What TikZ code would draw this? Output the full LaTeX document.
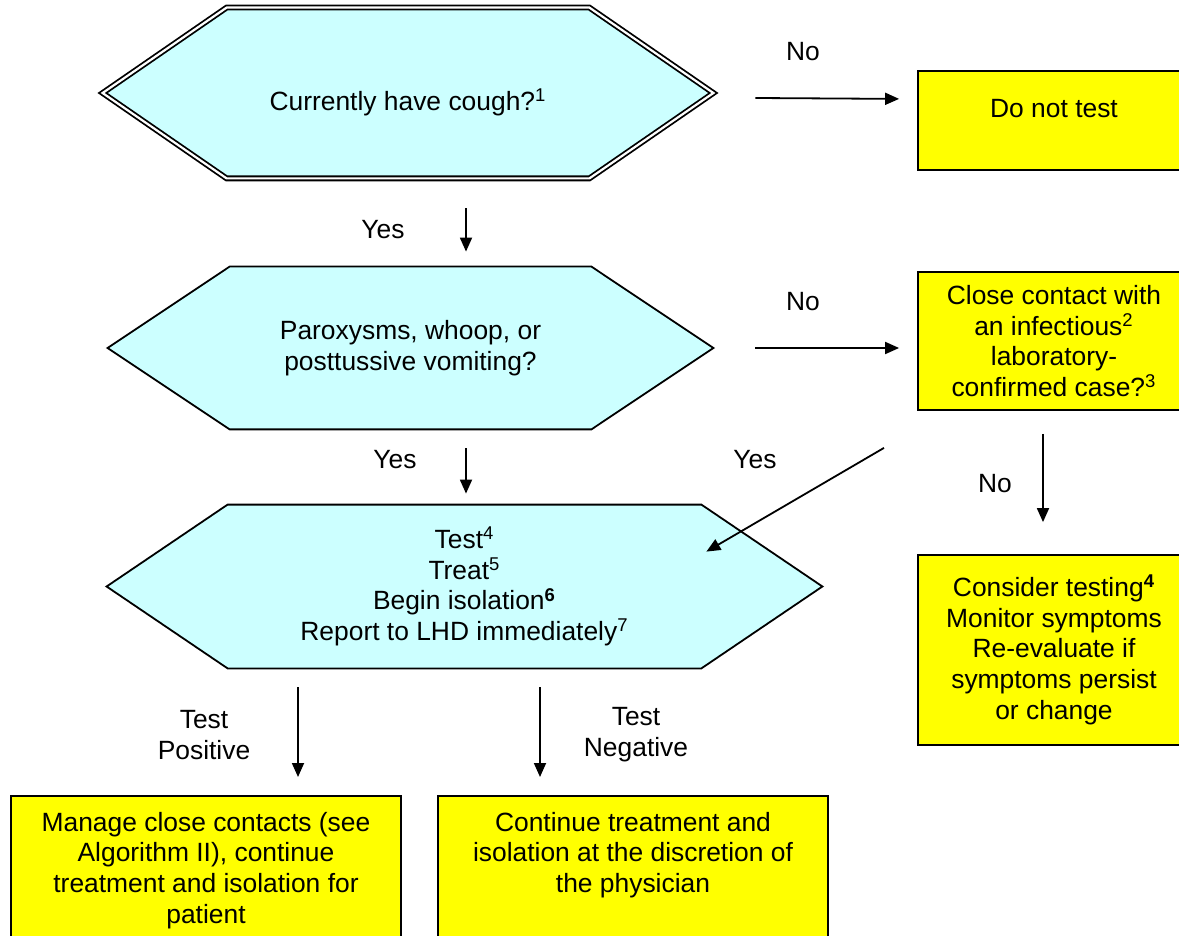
\documentclass[tikz,border=0pt]{standalone}
\usepackage{fontspec}
\setmainfont{Liberation Sans}
\usepackage{tikz}
\usetikzlibrary{arrows.meta, backgrounds}
\definecolor{qcyan}{HTML}{CCFFFF}
\definecolor{ayellow}{HTML}{FFFF00}
\newcommand{\fsz}{\fontsize{13.2}{15.4}\selectfont}
% hexagon outline round a rectangular node, #2 = depth of the points
\newcommand{\hexpath}[2]{(#1.west) -- ([xshift=#2]#1.north west) -- ([xshift=-#2]#1.north east) -- (#1.east) -- ([xshift=-#2]#1.south east) -- ([xshift=#2]#1.south west) -- cycle}
\tikzset{
  qnode/.style={inner sep=0pt, align=center, font=\fsz},
  hexline/.style={draw, fill=qcyan, line width=0.9pt},
  actbox/.style={draw, fill=ayellow, line width=0.9pt, align=center, font=\fsz, inner sep=0pt, minimum width=136pt},
  flow/.style={-{Triangle[length=7pt,width=6pt]}, line width=0.9pt},
  lbl/.style={align=center, font=\fsz, inner sep=0pt}
}

\begin{document}
\begin{tikzpicture}[x=0.5pt, y=-0.5pt]
    \useasboundingbox (0,0) rectangle (1179,936);

    % questions
    \node [qnode, minimum width=305pt, minimum height=85pt, text height=20pt, text depth=2.8pt] (cough) at (408,93) {Currently have cough?\textsuperscript{1}};
    \node [qnode, minimum width=302.5pt, minimum height=81pt] (parox) at (410.5,348) {Paroxysms, whoop, or\\posttussive vomiting?};
    \node [qnode, minimum width=357.5pt, minimum height=81.5pt] (treat) at (464.5,586.5) {Test\textsuperscript{4}\\Treat\textsuperscript{5}\\Begin isolation\textsuperscript{\textbf{6}}\\Report to LHD immediately\textsuperscript{7}};
    \begin{scope}[on background layer]
        \draw [hexline, double=white, double distance=1.1pt] \hexpath{cough}{62pt};
        \draw [hexline] \hexpath{parox}{61pt};
        \draw [hexline] \hexpath{treat}{60.5pt};
    \end{scope}

    % outcomes
    \node [actbox, anchor=north, text height=23.25pt, text depth=26.25pt] (notest) at (1054,70) {Do not test};
    \node [actbox, minimum height=69pt] (contact) at (1054,341) {Close contact with\\an infectious\textsuperscript{2}\\laboratory-\\confirmed case?\textsuperscript{3}};
    \node [actbox, minimum height=95pt] (consider) at (1054,650) {Consider testing\textsuperscript{\textbf{4}}\\Monitor symptoms\\Re-evaluate if\\symptoms persist\\or change};
    \node [actbox, minimum width=195pt, anchor=north, inner ysep=8pt, text depth=100pt] (manage) at (206,795) {Manage close contacts (see\\Algorithm II), continue\\treatment and isolation for\\patient};
    \node [actbox, minimum width=195pt, anchor=north, inner ysep=8pt, text depth=100pt] (cont) at (633,795) {Continue treatment and\\isolation at the discretion of\\the physician};

    % arrows
    \draw [flow] ([xshift=21pt,yshift=-2.5pt]cough.east) -- ([xshift=-9pt,yshift=10.75pt]notest.west);
    \draw [flow] ([xshift=29pt,yshift=-15pt]cough.south) -- ([xshift=27.75pt,yshift=7.5pt]parox.north);
    \draw [flow] ([xshift=21pt]parox.east) -- ([xshift=-9pt,yshift=-3.5pt]contact.west);
    \draw [flow] ([xshift=27.75pt,yshift=-9.5pt]parox.south) -- ([xshift=0.75pt,yshift=5.5pt]treat.north);
    \draw [flow] ([xshift=-85pt,yshift=-18.5pt]contact.south) -- ([xshift=-58pt,yshift=-23.5pt]treat.north east);
    \draw [flow] ([xshift=-5.5pt,yshift=-11.5pt]contact.south) -- ([xshift=-5.5pt,yshift=16pt]consider.north);
    \draw [flow] ([xshift=-83.25pt,yshift=-9.5pt]treat.south) -- ([xshift=46pt,yshift=9pt]manage.north);
    \draw [flow] ([xshift=37.75pt,yshift=-9.5pt]treat.south) -- ([xshift=-46.5pt,yshift=9pt]cont.north);

    % arrow labels
    \node [lbl] (no1) at (803,52) {No};
    \node [lbl] (yes1) at (383,230) {Yes};
    \node [lbl] (no2) at (803,302) {No};
    \node [lbl] (yes2) at (395,460) {Yes};
    \node [lbl] (yes3) at (755,460) {Yes};
    \node [lbl] (no3) at (995,484) {No};
    \node [lbl] (pos) at (204,735) {Test\\Positive};
    \node [lbl] (neg) at (636,735) {Test\\Negative};
\end{tikzpicture}
\end{document}
